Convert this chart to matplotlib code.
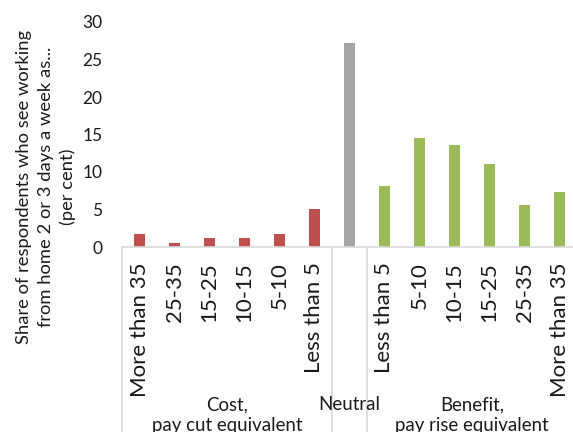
import matplotlib.pyplot as plt

# Data
cost_labels = ['More than 35', '25-35', '15-25', '10-15', '5-10', 'Less than 5']
cost_values = [1.8, 0.6, 1.2, 1.2, 1.7, 5.1]
neutral_labels = ['']
neutral_values = [27.2]
benefit_labels = ['Less than 5', '5-10', '10-15', '15-25', '25-35', 'More than 35']
benefit_values = [8.1, 14.5, 13.6, 11.1, 5.6, 7.3]
group_names = ['Cost,\npay cut equivalent', 'Neutral', 'Benefit,\npay rise equivalent']
y_ticks = [0, 5, 10, 15, 20, 25, 30]

RED = '#C0504D'
GREY = '#A5A5A5'
GREEN = '#9BBB59'
LINE = '#D9D9D9'
TEXT = '#1a1a1a'

plt.rcParams['font.family'] = ['Lato', 'DejaVu Sans']

W, H = 573, 432
fig = plt.figure(figsize=(W / 100, H / 100), dpi=100)
ax = fig.add_axes([122 / W, 185 / H, 455 / W, 225 / H])

labels = cost_labels + neutral_labels + benefit_labels
values = cost_values + neutral_values + benefit_values
colors = [RED] * len(cost_values) + [GREY] * len(neutral_values) + [GREEN] * len(benefit_values)
xs = list(range(len(values)))

ax.bar(xs, values, width=0.33, color=colors, zorder=2)
ax.set_xlim(-0.5, len(values) - 0.5)
ax.set_ylim(0, 30)
ax.set_yticks(y_ticks)
ax.tick_params(axis='y', length=0, pad=14, labelsize=12.5, labelcolor=TEXT)
ax.set_xticks(xs)
ax.set_xticklabels(labels, rotation=90, va='top', ha='center')
ax.tick_params(axis='x', length=0, pad=11, labelsize=16, labelcolor=TEXT)

for side in ['left', 'right', 'top']:
    ax.spines[side].set_visible(False)
ax.spines['bottom'].set_color(LINE)
ax.spines['bottom'].set_linewidth(1.2)

# multi-level category axis separators
tr = ax.get_xaxis_transform()
n_cost = len(cost_values)
n_neu = len(neutral_values)
bounds = [-0.5, n_cost - 0.5, n_cost + n_neu - 0.5, len(values) - 0.5]
for b in bounds:
    ax.plot([b, b], [0, -0.9], transform=tr, color=LINE, lw=1.2, clip_on=False)

centers = [(bounds[i] + bounds[i + 1]) / 2 for i in range(3)]
for c, name in zip(centers, group_names):
    ax.text(c, -0.662, name, transform=tr, ha='center', va='top', fontsize=13.4,
            color=TEXT, linespacing=1.32)

fig.text(46 / W, 1 - 187 / H,
         'Share of respondents who see working\nfrom home 2 or 3 days a week as...\n(per cent)',
         rotation=90, ha='center', va='center', fontsize=13.2, color=TEXT,
         linespacing=1.45, multialignment='center')

fig.savefig('out.png', dpi=100)
